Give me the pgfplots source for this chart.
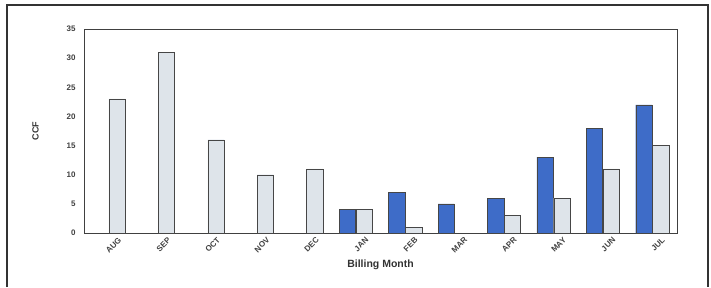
\documentclass[border=0pt]{standalone}
\usepackage{pgfplots}
\pgfplotsset{compat=1.18}
\usepackage{fontspec}
\setmainfont{Liberation Sans}
\definecolor{curblue}{RGB}{62,108,200}
\definecolor{prevgray}{RGB}{222,228,234}
\definecolor{edgegray}{RGB}{70,70,70}
\begin{document}
\begin{tikzpicture}[x=1pt,y=1pt]
\path[use as bounding box] (0,0) rectangle (711,287);
\draw[line width=1.6pt, color=black!80] (7,0) -- (7,282) -- (708,282) -- (708,0);
\begin{axis}[
  at={(84pt,54pt)}, anchor=south west,
  width=593pt, height=204pt, scale only axis,
  xmin=-0.5, xmax=11.5, ymin=0, ymax=35,
  ytick={0,5,...,35},
  xtick={0,...,11},
  xticklabels={AUG,SEP,OCT,NOV,DEC,JAN,FEB,MAR,APR,MAY,JUN,JUL},
  major tick length=0pt,
  axis line style={black!75, line width=0.7pt},
  tick label style={font=\fontsize{8}{9}\selectfont\bfseries, text=black!75},
  xticklabel style={xshift=12pt, yshift=-5pt, rotate=45, anchor=east, inner sep=1pt},
  yticklabel style={xshift=-5pt},
  /pgf/number format/assume math mode=true,
  xlabel={Billing Month}, ylabel={CCF},
  xlabel style={font=\fontsize{10.5}{11}\selectfont\bfseries, text=black!80, yshift=-1pt},
  ylabel style={font=\fontsize{9}{10}\selectfont\bfseries, text=black!80, yshift=21pt},
  ybar, bar width=0.33,
  clip=false,
]
\addplot[draw=edgegray, fill=curblue, line width=0.4pt, bar shift=-0.17] coordinates {
  (5,4) (6,7) (7,5) (8,6) (9,13) (10,18) (11,22)
};
\addplot[draw=edgegray, fill=prevgray, line width=0.4pt, bar shift=0.17] coordinates {
  (0,23) (1,31) (2,16) (3,10) (4,11) (5,4) (6,1) (8,3) (9,6) (10,11) (11,15)
};
\end{axis}
\end{tikzpicture}
\end{document}
